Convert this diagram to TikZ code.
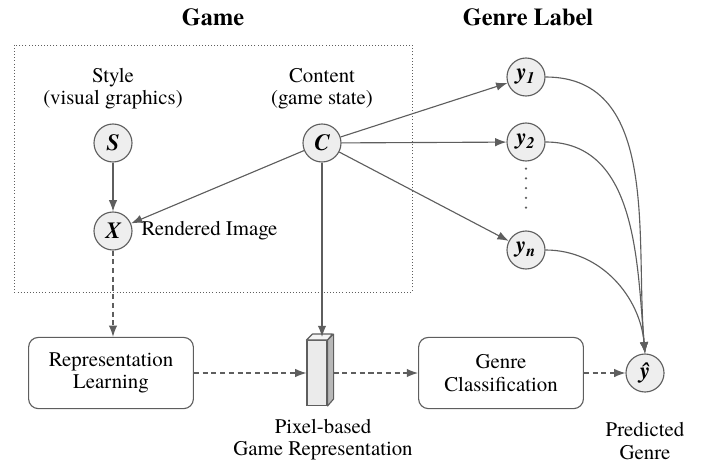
\documentclass[tikz,border=0pt]{standalone}
\usepackage{fontspec}
\IfFontExistsTF{texgyretermes-regular.otf}{%
  \setmainfont{texgyretermes}[Extension=.otf, UprightFont=*-regular, BoldFont=*-bold, ItalicFont=*-italic, BoldItalicFont=*-bolditalic]}{%
  \setmainfont{Liberation Serif}}
\usetikzlibrary{arrows.meta,positioning}

\definecolor{linegray}{HTML}{5E5E5E}
\definecolor{nodefill}{HTML}{EEEEEE}

\begin{document}
\begin{tikzpicture}[x=0.025cm, y=-0.025cm,
  varnode/.style={circle, draw=linegray, fill=nodefill, line width=0.8pt, inner sep=0pt, minimum size=0.95cm, font=\fontsize{16.5}{16.5}\selectfont\bfseries\itshape},
  block/.style={rectangle, rounded corners=7pt, draw=linegray, line width=0.8pt, minimum width=4.12cm, minimum height=1.78cm, align=center, font=\fontsize{14.8}{15.8}\selectfont},
  caption/.style={align=center, font=\fontsize{14.8}{15.8}\selectfont},
  title/.style={font=\fontsize{17.3}{17.3}\selectfont\bfseries},
  arr/.style={-{Latex[length=8pt,width=6pt]}, draw=linegray, line width=0.8pt},
  dasharr/.style={arr, dash pattern=on 3.6pt off 2.6pt}]

\useasboundingbox (0,0) rectangle (702,466);

% Titles
\node[title] (gametitle) at (213,17) {Game};
\node[title] (genretitle) at (528,17) {Genre Label};

% Game frame
\draw[linegray, line width=0.6pt, dash pattern=on 0.6pt off 1.6pt] (14,45) rectangle (412,292);

\node[caption] (stylelbl) at (113,89) {Style\\(visual graphics)};
\node[caption] (contentlbl) at (322,89) {Content\\(game state)};

\node[varnode] (S) at (113,143) {S};
\node[varnode] (C) at (322,143) {C};
\node[varnode] (X) at (113,231) {X};
\node[caption, right=0.1cm of X] (renderlbl) {Rendered Image};

\draw[arr] (S) -- (X);
\draw[arr] (C) -- (X);

% Genre labels
\node[varnode] (y1) at (526,77) {y\textsubscript{1}};
\node[varnode] (y2) at (526,142) {y\textsubscript{2}};
\node[varnode] (yn) at (526,250) {y\textsubscript{n}};
\draw[linegray, line width=1.8pt, line cap=round, dash pattern=on 0pt off 6.95pt] ([yshift=-0.175cm]y2.south) -- ([yshift=0.35cm]yn.north);

\draw[arr] (C) -- (y1);
\draw[arr] (C) -- (y2);
\draw[arr] (C) -- (yn);

% Bottom row
\node[block] (replearn) at (111,373) {Representation\\Learning};
\node[rectangle, draw=linegray, fill=black!8, line width=0.8pt, minimum width=0.5cm, minimum height=1.62cm, inner sep=0pt] (rep) at (317,373) {};
\draw[linegray, fill=black!4, line width=0.8pt, line join=round] (rep.north west) -- ++(6,-6) -- ++(20,0) -- (rep.north east) -- cycle;
\draw[linegray, fill=black!28, line width=0.8pt, line join=round] (rep.north east) -- ++(6,-6) -- ++(0,65) -- (rep.south east) -- cycle;
\coordinate (reptop) at ([shift={(3,-3)}]rep.north);
\coordinate (repside) at ([shift={(6,0)}]rep.east);
\node[caption] (replbl) at (323,440) {Pixel-based\\Game Representation};

\node[block] (genrecls) at (501,373) {Genre\\Classification};
\node[varnode] (yhat) at (645,373) {ŷ};
\node[caption] (predlbl) at (645,441) {Predicted\\Genre};

\draw[dasharr] (X) -- (X |- replearn.north);
\draw[arr] (C) -- (C |- reptop);
\draw[dasharr] (replearn) -- (rep);
\draw[dasharr] (repside) -- (genrecls);
\draw[dasharr] (genrecls) -- (yhat);

% Label curves
\draw[arr] (y1.east) to[out=0, in=95] (yhat.north);
\draw[arr] (y2.east) to[out=0, in=95] (yhat.north);
\draw[arr] (yn.east) to[out=0, in=95] (yhat.north);
\end{tikzpicture}
\end{document}
